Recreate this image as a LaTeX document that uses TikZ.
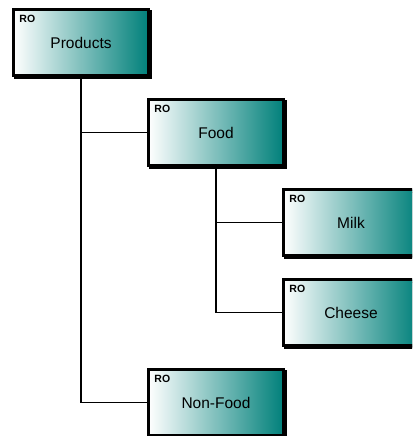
\documentclass[tikz,border=0pt]{standalone}
\usepackage{fontspec}
\setmainfont{Liberation Sans}
\usetikzlibrary{positioning,shadows}
\definecolor{roteal}{RGB}{0,128,122}

\begin{document}
\begin{tikzpicture}[x=1pt,y=1pt,on grid,node distance=90pt and 135pt,
                    ro box/.style={draw,line width=3pt,minimum width=135.5pt,minimum height=66pt,
                        left color=white,right color=roteal,
                        drop shadow={shadow xshift=2pt,shadow yshift=-2pt,fill=black,draw=black,line width=3pt,opacity=1},
                        font=\fontsize{15.5}{18}\selectfont,
                        label={[ro tag]north west:RO}},
                    ro tag/.style={anchor=north west,inner sep=0pt,xshift=7.5pt,yshift=-6.5pt,
                        font=\bfseries\fontsize{10.5}{12}\selectfont},
                    link/.style={line width=1.5pt}]

    \clip (0,0) rectangle (412,-436);

    % Define boxes
    \node[ro box] (products) at (81,-42.5) {Products};
    \node[ro box] (food) [below right=of products] {Food};
    \node[ro box] (milk) [below right=of food] {Milk};
    \node[ro box] (cheese) [below=of milk] {Cheese};
    \node[ro box] (nonfood) [below left=of cheese] {Non-Food};

    % Draw links
    \draw[link] (products.south) |- (food.west);
    \draw[link] (products.south) |- (nonfood.west);
    \draw[link] (food.south) |- (milk.west);
    \draw[link] (food.south) |- (cheese.west);

\end{tikzpicture}
\end{document}
